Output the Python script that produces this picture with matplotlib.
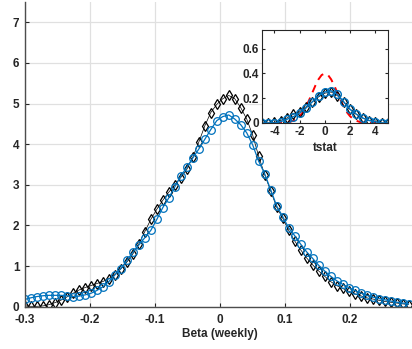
import numpy as np
import matplotlib.pyplot as plt

plt.rcParams['font.family'] = ['Liberation Sans', 'DejaVu Sans']
plt.rcParams['font.weight'] = 'bold'
plt.rcParams['axes.unicode_minus'] = False

# density of weekly betas, 65 bins from -0.30 to 0.29
beta_grid = np.linspace(-0.3, 0.29, 65)
dens_black = [0.02, 0.01, 0.01, 0.02, 0.05, 0.10, 0.16, 0.24, 0.33, 0.41,
              0.47, 0.52, 0.57, 0.62, 0.69, 0.79, 0.93, 1.10, 1.30, 1.55,
              1.85, 2.15, 2.40, 2.62, 2.82, 3.00, 3.18, 3.38, 3.68, 4.05,
              4.45, 4.78, 4.98, 5.12, 5.20, 5.12, 4.90, 4.62, 4.22, 3.70,
              3.25, 2.85, 2.45, 2.18, 1.88, 1.62, 1.40, 1.20, 1.03, 0.88,
              0.75, 0.62, 0.52, 0.45, 0.38, 0.32, 0.27, 0.22, 0.19, 0.16,
              0.13, 0.11, 0.09, 0.07, 0.05]
dens_blue = [0.18, 0.22, 0.25, 0.27, 0.28, 0.28, 0.28, 0.27, 0.25, 0.26,
             0.29, 0.33, 0.40, 0.49, 0.62, 0.78, 0.94, 1.14, 1.34, 1.52,
             1.70, 1.88, 2.15, 2.44, 2.68, 2.95, 3.22, 3.43, 3.66, 3.88,
             4.12, 4.36, 4.58, 4.68, 4.72, 4.62, 4.48, 4.28, 3.98, 3.58,
             3.27, 2.88, 2.48, 2.22, 1.94, 1.75, 1.54, 1.35, 1.19, 1.02,
             0.88, 0.75, 0.64, 0.55, 0.47, 0.40, 0.34, 0.28, 0.24, 0.20,
             0.17, 0.14, 0.11, 0.09, 0.07]

# t-stat densities for the inset
t_grid = np.arange(-5, 5.01, 0.5)
t_black = [0.0, 0.0, 0.005, 0.02, 0.04, 0.07, 0.09, 0.13, 0.17, 0.21, 0.24,
           0.25, 0.22, 0.17, 0.11, 0.07, 0.04, 0.02, 0.01, 0.0, 0.0]
t_blue = [0.0, 0.0, 0.0, 0.01, 0.03, 0.05, 0.08, 0.12, 0.17, 0.22, 0.25,
          0.26, 0.23, 0.17, 0.11, 0.07, 0.04, 0.02, 0.01, 0.0, 0.0]
norm_x = np.arange(-4, 4.01, 0.25)
norm_y = [0.0, 0.0, 0.001, 0.002, 0.004, 0.009, 0.018, 0.032, 0.054, 0.086,
          0.130, 0.183, 0.242, 0.301, 0.352, 0.387, 0.399, 0.387, 0.352,
          0.301, 0.242, 0.183, 0.130, 0.086, 0.054, 0.032, 0.018, 0.009,
          0.004, 0.002, 0.001, 0.0, 0.0]

blue = '#0072BD'
txt = '#262626'

fig = plt.figure(figsize=(4.12, 3.49), dpi=100)
ax = fig.add_axes([0.0607, 0.1212, 0.9466, 0.873])
ax.plot(beta_grid, dens_black, '-d', color='k', lw=0.5, ms=5, mfc='none', mew=0.9)
ax.plot(beta_grid, dens_blue, '-o', color=blue, lw=0.9, ms=5.5, mfc='none', mew=0.9)
ax.set_xlim(-0.3, 0.3)
ax.set_ylim(0, 7.5)
ax.set_xticks([-0.3, -0.2, -0.1, 0, 0.1, 0.2])
ax.set_xticklabels(['-0.3', '-0.2', '-0.1', '0', '0.1', '0.2'])
ax.set_yticks(range(8))
ax.grid(True, color='0.88', lw=0.9)
ax.set_axisbelow(True)
for s in ['top', 'right']:
    ax.spines[s].set_visible(False)
for s in ['left', 'bottom']:
    ax.spines[s].set_color('0.3')
    ax.spines[s].set_linewidth(1.0)
ax.tick_params(direction='in', length=3, width=0.8, color=txt, labelcolor=txt,
               labelsize=8.5)
ax.tick_params(axis='x', pad=5)
ax.tick_params(axis='y', pad=4)
ax.set_xlabel('Beta (weekly)', fontsize=8.5, fontweight='bold', color=txt, labelpad=2)

ins = fig.add_axes([0.635, 0.6476, 0.3068, 0.2665])
ins.plot(norm_x, norm_y, '--', color='r', lw=1.4, dashes=(4, 3))
ins.plot(t_grid, t_black, '-d', color='k', lw=0.5, ms=5, mfc='none', mew=0.9)
ins.plot(t_grid, t_blue, '-o', color=blue, lw=1.0, ms=5.5, mfc='none', mew=1.0)
ins.set_xlim(-5, 5)
ins.set_ylim(0, 0.75)
ins.set_xticks([-4, -2, 0, 2, 4])
ins.set_yticks([0, 0.2, 0.4, 0.6])
ins.set_yticklabels(['0', '0.2', '0.4', '0.6'])
for s in ins.spines.values():
    s.set_color(txt)
    s.set_linewidth(0.8)
ins.tick_params(direction='in', length=2.5, width=0.8, color=txt, labelcolor=txt,
                labelsize=8.5, pad=2, top=True, right=True)
ins.set_xlabel('tstat', fontsize=8.5, fontweight='bold', color=txt, labelpad=3)

fig.savefig('out.png', dpi=100)
